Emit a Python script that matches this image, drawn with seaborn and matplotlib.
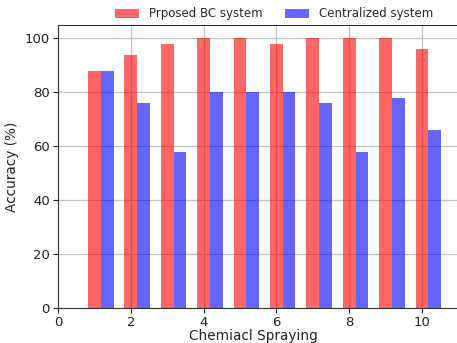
import numpy as np
import pandas as pd
import matplotlib
matplotlib.use("Agg")
import matplotlib.pyplot as plt
import seaborn as sns

sprays = [1, 2, 3, 4, 5, 6, 7, 8, 9, 10]
bc_acc = [88, 94, 98, 100, 100, 98, 100, 100, 100, 96]
central_acc = [88, 76, 58, 80, 80, 80, 76, 58, 78, 66]
labels = ["Prposed BC system", "Centralized system"]

w = 0.35
sns.set_style("whitegrid", {"grid.color": "#c0c0c0", "axes.edgecolor": "#333333"})
plt.rcParams["font.family"] = ["DejaVu Sans"]

fig = plt.figure(figsize=(4.57, 3.43), dpi=100)
# axes run past the right edge, as in the cropped original
ax = fig.add_axes([58 / 457, 1 - 308 / 343, 412 / 457, 283 / 343])

df1 = pd.DataFrame({"x": np.array(sprays, dtype=float), "y": bc_acc})
df2 = pd.DataFrame({"x": np.array(sprays, dtype=float) + w, "y": central_acc})
sns.barplot(data=df1, x="x", y="y", native_scale=True, width=w, color="red",
            alpha=0.6, saturation=1, label=labels[0], ax=ax, linewidth=0)
sns.barplot(data=df2, x="x", y="y", native_scale=True, width=w, color="blue",
            alpha=0.6, saturation=1, label=labels[1], ax=ax, linewidth=0)

ax.set_xlim(0, 11.32)
ax.set_ylim(0, 105)
ax.set_xticks([0, 2, 4, 6, 8, 10])
ax.set_yticks([0, 20, 40, 60, 80, 100])
ax.tick_params(labelsize=9.5, length=3.5, width=0.8, colors="#222222",
               left=True, bottom=True, pad=2.5)
ax.set_xlabel("Chemiacl Spraying", fontsize=9.8, color="#222222")
ax.xaxis.set_label_coords((253.5 - 58) / 412, -(329 - 308) / 283)
ax.set_ylabel("Accuracy (%)", fontsize=9.8, labelpad=4, color="#222222")
ax.grid(True, color="#c0c0c0", linewidth=0.9)
ax.legend(loc="center", bbox_to_anchor=((274 - 58) / 412, 1.039), ncol=2,
          frameon=False, fontsize=8.5, handlelength=2.0, handleheight=0.8,
          handletextpad=0.85, columnspacing=1.9, borderaxespad=0)

fig.savefig("out.png", dpi=100)
